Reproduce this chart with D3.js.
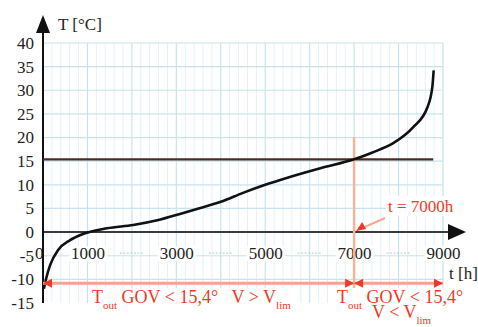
<!DOCTYPE html>
<html>
<head>
<meta charset="utf-8">
<script src="https://cdn.jsdelivr.net/npm/d3@7"></script>
<style>
  html, body { margin: 0; padding: 0; background: #fff; }
  svg { display: block; }
  svg text { font-family: "Liberation Serif", "DejaVu Serif", serif !important; }
</style>
</head>
<body>
<svg id="chart" width="478" height="327"></svg>
<script>
// Annual temperature duration curve: hours (sorted) vs outdoor temperature
const hours = [20, 80, 160, 340, 610, 900, 1440, 2030, 2570, 3100, 3500, 4000, 4500, 5000, 5500, 6240, 7000, 7400, 7880, 8330, 8650, 8760, 8790];
const temps = [-12, -9.5, -7, -3.8, -1.7, -0.4, 0.8, 1.5, 2.5, 3.9, 5.0, 6.4, 8.3, 10.0, 11.5, 13.5, 15.4, 16.8, 18.8, 22.2, 26.4, 30.7, 34.2];

const yTicks = [-15, -10, -5, 0, 5, 10, 15, 20, 25, 30, 35, 40];
const xTicks = [0, 1000, 3000, 5000, 7000, 9000];
const xDashTicks = [2000, 4000, 6000, 8000];

const tLimit = 15.4;      // GOV threshold temperature
const tSwitch = 7000;     // hour where the curve crosses the threshold
const tArrowLevel = -10.8;
const tLimitEnd = 8780;

const FONT = '"Liberation Serif", "DejaVu Serif", serif';

const svg = d3.select("#chart");
const x = d3.scaleLinear().domain([0, 9000]).range([43, 443]);
const y = d3.scaleLinear().domain([-15, 40]).range([303, 43]);

const red = "#ec3a26", salmon = "#f6a390", peach = "#f6b594";

// grid
const grid = svg.append("g");
grid.selectAll("line.minor").data(d3.range(0, 9001, 200).filter(v => v % 1000 !== 0))
  .join("line")
  .attr("x1", d => x(d)).attr("x2", d => x(d))
  .attr("y1", y(40)).attr("y2", y(-15))
  .attr("stroke", "#e4f1f7").attr("stroke-width", 1);
grid.selectAll("line.vmaj").data(d3.range(1000, 9001, 1000))
  .join("line")
  .attr("x1", d => x(d)).attr("x2", d => x(d))
  .attr("y1", y(40)).attr("y2", y(-15))
  .attr("stroke", "#c8e3ef").attr("stroke-width", 1.2);
grid.selectAll("line.hmaj").data(yTicks.filter(v => v !== 0 && v !== -15))
  .join("line")
  .attr("x1", x(0)).attr("x2", x(9000))
  .attr("y1", d => y(d)).attr("y2", d => y(d))
  .attr("stroke", "#c8e3ef").attr("stroke-width", 1.2);

// y axis labels
const yAxis = d3.axisLeft(y).tickValues(yTicks).tickSize(0).tickPadding(9)
  .tickFormat(d => String(d));
const gy = svg.append("g").attr("transform", `translate(${x(0)},0)`).call(yAxis)
  .attr("font-family", FONT);
gy.select(".domain").remove();
gy.selectAll("text").attr("font-size", 17).attr("fill", "#222").style("font-family", FONT);

// x axis labels (with white backing)
const xAxis = d3.axisBottom(x).tickValues(xTicks).tickSize(0).tickPadding(15)
  .tickFormat(d => String(d));
const gx = svg.append("g").attr("transform", `translate(0,${y(0)})`);
gx.call(xAxis).attr("font-family", FONT);
gx.select(".domain").remove();
gx.selectAll(".tick").insert("rect", "text")
  .attr("x", d => d === 0 ? -8 : -19).attr("y", 14).attr("width", d => d === 0 ? 8 : 38).attr("height", 15)
  .attr("fill", "#fff");
gx.selectAll("text").attr("font-size", 17).attr("fill", "#222").style("font-family", FONT)
  .attr("text-anchor", d => d === 0 ? "end" : "middle");
svg.append("g").selectAll("line").data(xDashTicks).join("line")
  .attr("x1", d => x(d) - 12).attr("x2", d => x(d) + 12)
  .attr("y1", y(0) + 21).attr("y2", y(0) + 21)
  .attr("stroke", "#b8c4cc").attr("stroke-width", 1).attr("stroke-dasharray", "2,1.5");

// x axis line and arrow
svg.append("line").attr("x1", x(0)).attr("x2", 450).attr("y1", y(0)).attr("y2", y(0))
  .attr("stroke", "#3a3a3a").attr("stroke-width", 2);
svg.append("path").attr("d", `M448,${y(0) - 8} L466,${y(0)} L448,${y(0) + 8} Z`).attr("fill", "#111");

// y axis line and arrow
svg.append("line").attr("x1", x(0)).attr("x2", x(0)).attr("y1", 30).attr("y2", y(-15))
  .attr("stroke", "#111").attr("stroke-width", 2);
svg.append("path").attr("d", `M${x(0)},15 L${x(0) + 7},33 L${x(0) - 7},33 Z`).attr("fill", "#111");

svg.append("text").attr("x", 58).attr("y", 30).attr("font-size", 17).attr("fill", "#222")
  .style("font-family", FONT).text("T [°C]");
svg.append("text").attr("x", 449).attr("y", 279).attr("font-size", 17).attr("fill", "#222")
  .style("font-family", FONT).text("t [h]");

// threshold line T = 15.4
svg.append("line").attr("x1", x(0)).attr("x2", x(tLimitEnd)).attr("y1", y(tLimit)).attr("y2", y(tLimit))
  .attr("stroke", "#4e2c22").attr("stroke-width", 2.2);

// vertical marker at t = 7000 h
svg.append("line").attr("x1", x(tSwitch)).attr("x2", x(tSwitch)).attr("y1", 137).attr("y2", 290)
  .attr("stroke", peach).attr("stroke-width", 2.5);

// duration curve
const line = d3.line().x((d, i) => x(hours[i])).y(d => y(d)).curve(d3.curveMonotoneX);
svg.append("path").datum(temps).attr("d", line)
  .attr("fill", "none").attr("stroke", "#111").attr("stroke-width", 2.6);

// span arrows along the bottom
const ay = y(tArrowLevel);
function arrowHead(xTip, dir) {
  svg.append("path")
    .attr("d", `M${xTip},${ay} L${xTip - dir * 9},${ay - 4.5} L${xTip - dir * 9},${ay + 4.5} Z`)
    .attr("fill", red);
}
svg.append("line").attr("x1", x(0)).attr("x2", x(tSwitch)).attr("y1", ay).attr("y2", ay)
  .attr("stroke", salmon).attr("stroke-width", 3);
svg.append("line").attr("x1", x(tSwitch)).attr("x2", x(9000)).attr("y1", ay).attr("y2", ay)
  .attr("stroke", salmon).attr("stroke-width", 3);
arrowHead(x(0), -1);
arrowHead(x(tSwitch), 1);
arrowHead(x(tSwitch), -1);
arrowHead(x(9000), 1);

// callout t = 7000h
svg.append("rect").attr("x", 386).attr("y", 196).attr("width", 74).attr("height", 20).attr("fill", "#fff");
svg.append("text").attr("x", 388).attr("y", 212).attr("font-size", 17).attr("fill", red)
  .style("font-family", FONT).text("t = 7000h");
svg.append("line").attr("x1", 385).attr("y1", 218).attr("x2", x(tSwitch) + 8).attr("y2", y(0) - 4)
  .attr("stroke", salmon).attr("stroke-width", 2);
svg.append("path")
  .attr("d", `M${x(tSwitch) + 2},${y(0) - 1} L${x(tSwitch) + 8},${y(0) - 10} L${x(tSwitch) + 12},${y(0) - 3} Z`)
  .attr("fill", red);

// range labels
svg.append("rect").attr("x", 90).attr("y", 288).attr("width", 205).attr("height", 39).attr("fill", "#fff");
svg.append("rect").attr("x", 335).attr("y", 288).attr("width", 132).attr("height", 39).attr("fill", "#fff");

// one text element per label; rows: [x, baseline, parts], parts: [string, isSubscript]
function subLabel(rows) {
  const t = svg.append("text").attr("font-size", 18).attr("fill", red)
    .style("font-family", FONT).style("white-space", "pre");
  rows.forEach(([xp, yp, parts]) => {
    let first = true, shifted = false;
    parts.forEach(([s, sub]) => {
      const sp = t.append("tspan").text(s);
      if (first) { sp.attr("x", xp).attr("y", yp + (sub ? 6 : 0)); first = false; shifted = !!sub; if (sub) sp.attr("font-size", 11); return; }
      if (sub) {
        sp.attr("font-size", 11).attr("dy", shifted ? 0 : 6);
        shifted = true;
      } else {
        sp.attr("dy", shifted ? -6 : 0);
        shifted = false;
      }
    });
  });
}
subLabel([[92, 303, [["T"], ["out", true], [" GOV < 15,4°\u00a0\u00a0\u00a0V > V"], ["lim", true]]]]);
subLabel([
  [337, 303, [["T"], ["out", true], [" GOV < 15,4°"]]],
  [372, 318, [["V < V"], ["lim", true]]]
]);
</script>
</body>
</html>
